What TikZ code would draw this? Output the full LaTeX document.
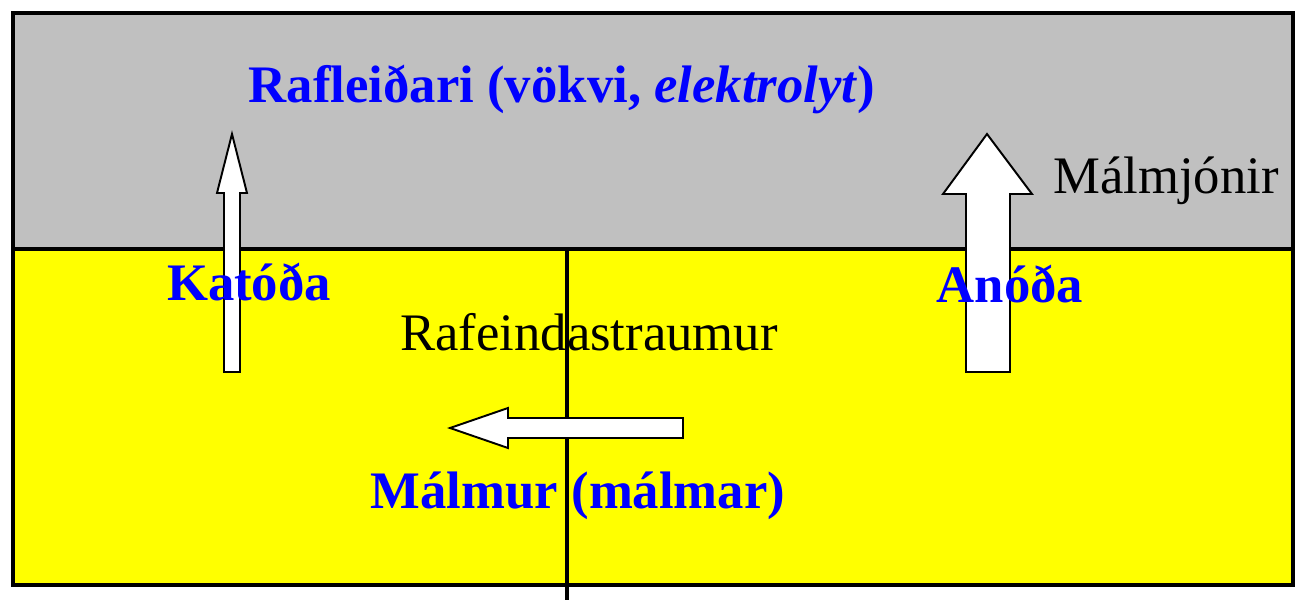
\documentclass[tikz,border=0pt]{standalone}
\usepackage{fontspec}
\setmainfont{Liberation Serif}
\definecolor{vokvigray}{HTML}{C0C0C0}
\definecolor{malmyellow}{HTML}{FFFF00}
\definecolor{lblblue}{HTML}{0000FF}
\begin{document}
\begin{tikzpicture}[
    lbl/.style={text=lblblue, font=\fontsize{30}{36}\selectfont\bfseries, anchor=base, inner sep=0pt},
    txt/.style={font=\fontsize{30}{36}\selectfont, anchor=base, inner sep=0pt},
    blockarrow/.style={draw, fill=white, line width=1.1pt, line join=miter}]
      \useasboundingbox (0,0) rectangle (26.1,12);
      \fill[vokvigray] (0.26,7.02) rectangle (25.86,11.74);
      \fill[malmyellow] (0.26,0.30) rectangle (25.86,7.02);
      \draw[line width=2pt] (11.34,7.02) -- (11.34,0);
      \draw[line width=2.2pt] (0.26,0.30) rectangle (25.86,11.74);
      \draw[line width=2.2pt] (0.26,7.02) -- (25.86,7.02);
      % block arrows
      \draw[blockarrow] (4.48,4.56) -- (4.48,8.14) -- (4.34,8.14) -- (4.64,9.32)
        -- (4.94,8.14) -- (4.80,8.14) -- (4.80,4.56) -- cycle;
      \draw[blockarrow] (19.32,4.56) -- (19.32,8.12) -- (18.86,8.12) -- (19.74,9.32)
        -- (20.64,8.12) -- (20.20,8.12) -- (20.20,4.56) -- cycle;
      \draw[blockarrow] (13.66,3.64) -- (10.16,3.64) -- (10.16,3.84) -- (9.00,3.44)
        -- (10.16,3.04) -- (10.16,3.24) -- (13.66,3.24) -- cycle;
      \node[lbl] (rafleidari) at (11.24,9.94) {Rafleiðari (vökvi, \textit{elektrolyt})};
      \node[txt] (malmjonir) at (23.32,8.14) {Málmjónir};
      \node[lbl] (katoda) at (4.98,6.0) {Katóða};
      \node[lbl] (anoda) at (20.2,5.96) {Anóða};
      \node[txt] (straumur) at (11.78,5.0) {Rafeindastraumur};
      \node[lbl] (malmur) at (11.56,1.84) {Málmur (málmar)};
    \end{tikzpicture}
\end{document}
